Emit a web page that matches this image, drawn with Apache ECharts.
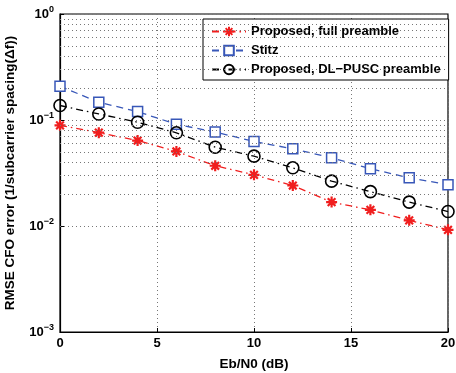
<!DOCTYPE html>
<html>
<head>
<meta charset="utf-8">
<script src="https://cdn.jsdelivr.net/npm/echarts@6/dist/echarts.min.js"></script>
<style>
  html, body { margin: 0; padding: 0; background: #fff; }
  #chart { width: 456px; height: 373px; }
</style>
</head>
<body>
<div id="chart"></div>
<script>
const ebn0 = [0, 2, 4, 6, 8, 10, 12, 14, 16, 18, 20];
const fullPreamble = [0.089, 0.076, 0.064, 0.0505, 0.037, 0.0304, 0.0241, 0.0168, 0.0142, 0.0113, 0.0092];
const stitz = [0.208, 0.147, 0.120, 0.091, 0.077, 0.0627, 0.0535, 0.044, 0.0347, 0.0285, 0.0245];
const dlPusc = [0.137, 0.114, 0.0953, 0.0757, 0.0554, 0.0456, 0.0354, 0.0265, 0.0211, 0.0168, 0.0137];
const minorGrid = [0.002, 0.003, 0.004, 0.005, 0.006, 0.007, 0.008, 0.009,
                   0.02, 0.03, 0.04, 0.05, 0.06, 0.07, 0.08, 0.09,
                   0.2, 0.3, 0.4, 0.5, 0.6, 0.7, 0.8, 0.9];

const FONT = '"Liberation Sans", Arial, sans-serif';
const asterisk = 'path://M0,5L10,5M5,0L5,10M1.5,1.5L8.5,8.5M1.5,8.5L8.5,1.5';

const chart = echarts.init(document.getElementById('chart'));

const pairs = ys => ebn0.map((x, i) => [x, ys[i]]);

chart.setOption({
  animation: false,
  backgroundColor: '#fff',
  textStyle: { fontFamily: FONT },
  grid: {
    left: 60, right: 8, top: 14, bottom: 41,
    outerBoundsMode: 'none', containLabel: false,
    show: true, borderColor: '#000', borderWidth: 1.2
  },
  legend: {
    left: 203, top: 19, width: 239,
    orient: 'vertical',
    backgroundColor: '#fff',
    borderColor: '#000', borderWidth: 1,
    borderRadius: 0,
    padding: [6, 8, 4, 8],
    itemGap: 6,
    itemWidth: 34, itemHeight: 12,
    textStyle: { fontFamily: FONT, fontWeight: 'bold', fontSize: 13, color: '#000' },
    data: ['Proposed, full preamble', 'Stitz', 'Proposed, DL\u2212PUSC preamble']
  },
  xAxis: {
    type: 'value', min: 0, max: 20, interval: 5,
    name: 'Eb/N0 (dB)', nameLocation: 'middle', nameGap: 25,
    nameTextStyle: { fontFamily: FONT, fontWeight: 'bold', fontSize: 13.5, color: '#000' },
    axisLine: { lineStyle: { color: '#000', width: 1.2 } },
    axisTick: { inside: true, length: 4, lineStyle: { color: '#000' } },
    axisLabel: { fontFamily: FONT, fontWeight: 'bold', fontSize: 13, color: '#000', margin: 5 },
    splitLine: { show: true, lineStyle: { type: [1, 3], color: '#777', width: 1 } }
  },
  yAxis: {
    type: 'log', logBase: 10, min: 0.001, max: 1,
    name: 'RMSE CFO error (1/subcarrier spacing(\u0394f))', nameLocation: 'middle', nameGap: 43,
    nameTextStyle: { fontFamily: FONT, fontWeight: 'bold', fontSize: 13.5, color: '#000' },
    axisLine: { lineStyle: { color: '#000', width: 1.2 } },
    axisTick: { inside: true, length: 4, lineStyle: { color: '#000' } },
    axisLabel: {
      margin: 6,
      formatter: v => '10{s|' + Math.round(Math.log10(v)).toString().replace('-', '\u2212') + '}',
      rich: {
        s: { fontFamily: FONT, fontWeight: 'bold', fontSize: 9, color: '#000', verticalAlign: 'bottom', padding: [0, 0, 9, 0] }
      },
      fontFamily: FONT, fontWeight: 'bold', fontSize: 13, color: '#000'
    },
    splitLine: { show: true, lineStyle: { type: [1, 3], color: '#777', width: 1 } }
  },
  series: [
    {
      name: 'Proposed, full preamble', type: 'line', data: pairs(fullPreamble),
      symbol: asterisk, symbolSize: 11, showAllSymbol: true,
      itemStyle: { color: '#f01e1e', borderColor: '#f01e1e', borderWidth: 2.2 },
      lineStyle: { color: '#f01e1e', width: 1.3, type: [7, 4, 1.5, 4] },
      z: 3,
      markLine: {
        silent: true, symbol: ['none', 'none'], label: { show: false },
        lineStyle: { type: [1, 3], color: '#777', width: 1 },
        data: minorGrid.map(v => ({ yAxis: v }))
      }
    },
    {
      name: 'Stitz', type: 'line', data: pairs(stitz),
      symbol: 'rect', symbolSize: 10, showAllSymbol: true,
      itemStyle: { color: '#fff', borderColor: '#3857b8', borderWidth: 1.5 },
      lineStyle: { color: '#3857b8', width: 1.3, type: [7, 5] },
      z: 3
    },
    {
      name: 'Proposed, DL\u2212PUSC preamble', type: 'line', data: pairs(dlPusc),
      symbol: 'circle', symbolSize: 12, showAllSymbol: true,
      itemStyle: { color: 'rgba(255,255,255,0)', borderColor: '#000', borderWidth: 1.6 },
      lineStyle: { color: '#000', width: 1.3, type: [7, 4, 1.5, 4] },
      z: 3
    }
  ]
});
</script>
</body>
</html>
